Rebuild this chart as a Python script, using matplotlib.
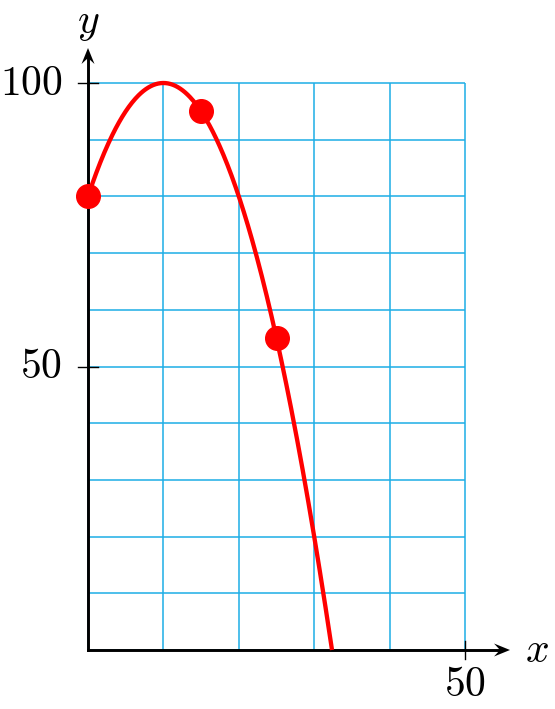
import numpy as np
import matplotlib
matplotlib.use("Agg")
from matplotlib import pyplot as plt
from matplotlib.patches import Polygon

plt.rcParams['mathtext.fontset'] = 'cm'
plt.rcParams['font.family'] = 'serif'

# data
pt_x = [0, 15, 25]
pt_y = [80, 95, 55]
grid_x = [0, 10, 20, 30, 40, 50]
grid_y = [0, 10, 20, 30, 40, 50, 60, 70, 80, 90, 100]
xtick_vals = [50]
ytick_vals = [50, 100]

grid_col = '#1DAEE6'
red = '#FF0000'

PX = 7.54  # px per x unit
PY = 5.67  # px per y unit

fig = plt.figure(figsize=(5.55, 7.09), dpi=100)
ax = fig.add_axes([0, 0, 1, 1])
ax.set_xlim(-88 / PX, (555 - 88) / PX)
ax.set_ylim((650 - 709) / PY, 650 / PY)
ax.axis('off')

# grid
ax.vlines(grid_x, 0, grid_y[-1], color=grid_col, lw=1.1, zorder=1)
ax.hlines(grid_y, 0, grid_x[-1], color=grid_col, lw=1.1, zorder=1)

# axes lines + latex style arrow heads
x_tip = (510 - 88) / PX
y_tip = (650 - 48) / PY
ax.plot([0, x_tip - 8 / PX], [0, 0], color='black', lw=2.1, zorder=3)
ax.plot([0, 0], [0, y_tip - 8 / PY], color='black', lw=2.1, zorder=3)
hl, notch, hw = 16, 10, 6.5
ax.add_patch(Polygon([(x_tip, 0), (x_tip - hl / PX, hw / PY), (x_tip - notch / PX, 0),
                      (x_tip - hl / PX, -hw / PY)], closed=True, color='black', lw=0, zorder=3))
ax.add_patch(Polygon([(0, y_tip), (hw / PX, y_tip - hl / PY), (0, y_tip - notch / PY),
                      (-hw / PX, y_tip - hl / PY)], closed=True, color='black', lw=0, zorder=3))
ax.text(59.5, 0, '$x$', fontsize=30, ha='center', va='center')
ax.text(0, 110.8, '$y$', fontsize=30, ha='center', va='center')

# ticks
tx = 10 / PX
ty = 9 / PY
for v in ytick_vals:
    ax.plot([-tx, tx], [v, v], color='black', lw=1.0, zorder=3)
    ax.text(-3.4, v, '$%d$' % v, fontsize=30, ha='right', va='center')
for v in xtick_vals:
    ax.plot([v, v], [-ty, ty], color='black', lw=1.0, zorder=3)
    ax.text(v, -6.0, '$%d$' % v, fontsize=30, ha='center', va='center')

# parabola through the marked points, drawn down to the x axis
coef = np.polyfit(pt_x, pt_y, 2)
x_end = max(r.real for r in np.roots(coef))
xs = np.linspace(0, x_end, 300)
ax.plot(xs, np.polyval(coef, xs), color=red, lw=3.1, zorder=4, solid_capstyle='butt')
ax.plot(pt_x, pt_y, 'o', color=red, ms=17, zorder=5)

fig.savefig('out.png', dpi=100)
